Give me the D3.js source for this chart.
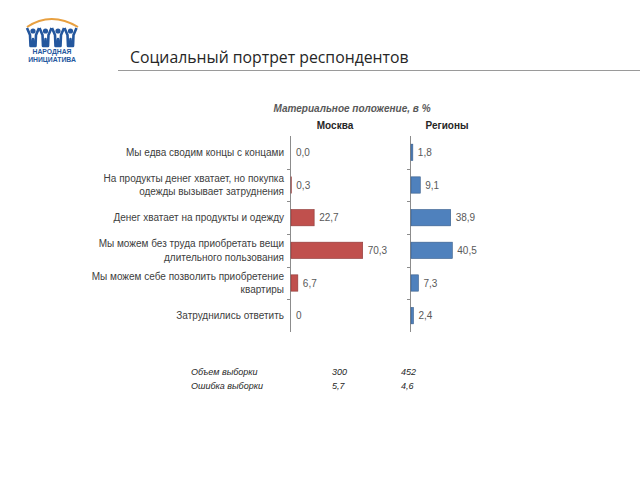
<!DOCTYPE html>
<html><head><meta charset="utf-8">
<script src="https://cdn.jsdelivr.net/npm/d3@7"></script>
<style>body{margin:0;background:#fff}svg{display:block}</style>
</head><body>
<script>
const pageTitle = "Социальный портрет респондентов";
const chartTitle = "Материальное положение, в %";
const seriesNames = ["Москва", "Регионы"];
const categories = [
  "Мы едва сводим концы с концами",
  "На продукты денег хватает, но покупка\nодежды вызывает затруднения",
  "Денег хватает на продукты и одежду",
  "Мы можем без труда приобретать вещи\nдлительного пользования",
  "Мы можем себе позволить приобретение\nквартиры",
  "Затруднились ответить"
];
const moscow = [0.0, 0.3, 22.7, 70.3, 6.7, 0];
const moscowLabels = ["0,0", "0,3", "22,7", "70,3", "6,7", "0"];
const regions = [1.8, 9.1, 38.9, 40.5, 7.3, 2.4];
const regionsLabels = ["1,8", "9,1", "38,9", "40,5", "7,3", "2,4"];
const tableRows = ["Объем выборки", "Ошибка выборки"];
const tableMoscow = ["300", "5,7"];
const tableRegions = ["452", "4,6"];

const W = 640, H = 480;
const svg = d3.select("body").append("svg").attr("width", W).attr("height", H);
const font = "'Liberation Sans', Arial, sans-serif";

// Logo
const logo = svg.append("g");
logo.append("path").attr("d", "M27,27 Q51,11 78,27").attr("fill","none").attr("stroke","#E8A040").attr("stroke-width",2);
const figX = d3.range(4).map(i => 33 + i * 12.5);
figX.forEach(x => {
  logo.append("circle").attr("cx", x).attr("cy", 31).attr("r", 2.6).attr("fill", "#24579E");
  logo.append("path").attr("d", `M${x-6},28 L${x-3},35 L${x-2.5},46 L${x-0.5},46 L${x},39 L${x+0.5},46 L${x+2.5},46 L${x+3},35 L${x+6},28`)
    .attr("fill","none").attr("stroke","#24579E").attr("stroke-width",2.6).attr("stroke-linejoin","round");
});
logo.append("text").attr("x", 52).attr("y", 54).attr("text-anchor","middle").attr("font-family", font)
  .attr("font-weight","bold").attr("font-size", 6.8).attr("fill","#24579E").text("НАРОДНАЯ");
logo.append("text").attr("x", 52).attr("y", 62).attr("text-anchor","middle").attr("font-family", font)
  .attr("font-weight","bold").attr("font-size", 6.8).attr("fill","#24579E").text("ИНИЦИАТИВА");

// Page title
svg.append("text").attr("x", 130).attr("y", 63).attr("font-family", "'Open Sans', sans-serif")
  .attr("font-size", 15.8).attr("fill", "#262626").text(pageTitle);
svg.append("line").attr("x1", 118).attr("x2", 640).attr("y1", 70.5).attr("y2", 70.5)
  .attr("stroke", "#9a9a9a").attr("stroke-width", 1);

// Chart title
svg.append("text").attr("x", 352).attr("y", 112).attr("text-anchor","middle").attr("font-family", font)
  .attr("font-style","italic").attr("font-weight","bold").attr("font-size", 10).attr("fill","#595959").text(chartTitle);
svg.append("text").attr("x", 335).attr("y", 129).attr("text-anchor","middle").attr("font-family", font)
  .attr("font-weight","bold").attr("font-size", 10).attr("fill","#262626").text(seriesNames[0]);
svg.append("text").attr("x", 447).attr("y", 129).attr("text-anchor","middle").attr("font-family", font)
  .attr("font-weight","bold").attr("font-size", 10).attr("fill","#262626").text(seriesNames[1]);

const y = d3.scaleBand().domain(d3.range(categories.length)).range([136, 332]).paddingInner(0.5).paddingOuter(0.25);
const yAxisBand = d3.scaleBand().domain(d3.range(categories.length)).range([136, 332]);
const xM = d3.scaleLinear().domain([0, 100]).range([290, 392]);
const xR = d3.scaleLinear().domain([0, 100]).range([410, 512]);

function panel(xs, vals, labels, color, stroke) {
  const g = svg.append("g");
  g.append("line").attr("x1", xs(0)+0.5).attr("x2", xs(0)+0.5).attr("y1", 136).attr("y2", 332)
    .attr("stroke", "#8c8c8c").attr("stroke-width", 1);
  d3.range(1, categories.length).forEach(i => {
    const ty = Math.round(yAxisBand(i)) + 0.5;
    g.append("line").attr("x1", xs(0)-3).attr("x2", xs(0)).attr("y1", ty).attr("y2", ty).attr("stroke","#8c8c8c");
  });
  g.selectAll("rect").data(vals).join("rect")
    .attr("x", xs(0)+1).attr("y", (d,i) => y(i))
    .attr("width", d => Math.max(0, xs(d) - xs(0)))
    .attr("height", y.bandwidth())
    .attr("fill", color).attr("stroke", d => d > 0 ? stroke : "none").attr("stroke-width", 0.6);
  g.selectAll("text.v").data(vals).join("text").attr("class","v")
    .attr("x", d => xs(d) + 6).attr("y", (d,i) => y(i) + y.bandwidth()/2 + 3.5)
    .attr("font-family", font).attr("font-size", 10).attr("fill", "#595959")
    .text((d,i) => labels[i]);
}
panel(xM, moscow, moscowLabels, "#C0504D", "#8C3836");
panel(xR, regions, regionsLabels, "#4F81BD", "#385D8A");

// Category labels
const catG = svg.append("g");
categories.forEach((c, i) => {
  const lines = c.split("\n");
  const cy = yAxisBand(i) + yAxisBand.bandwidth()/2;
  const lh = 13.5;
  const t = catG.append("text").attr("text-anchor","end").attr("font-family", font)
    .attr("font-size", 10).attr("fill", "#404040");
  lines.forEach((l, j) => {
    t.append("tspan").attr("x", 284).attr("y", cy + 3.5 + (j - (lines.length-1)/2) * lh).text(l);
  });
});

// Bottom table
tableRows.forEach((r, i) => {
  const ty = 375 + i * 14;
  svg.append("text").attr("x", 191).attr("y", ty).attr("font-family", font).attr("font-style","italic")
    .attr("font-size", 9).attr("fill","#262626").text(r);
  svg.append("text").attr("x", 332).attr("y", ty).attr("font-family", font).attr("font-style","italic")
    .attr("font-size", 9).attr("fill","#262626").text(tableMoscow[i]);
  svg.append("text").attr("x", 401).attr("y", ty).attr("font-family", font).attr("font-style","italic")
    .attr("font-size", 9).attr("fill","#262626").text(tableRegions[i]);
});
</script>
</body></html>
